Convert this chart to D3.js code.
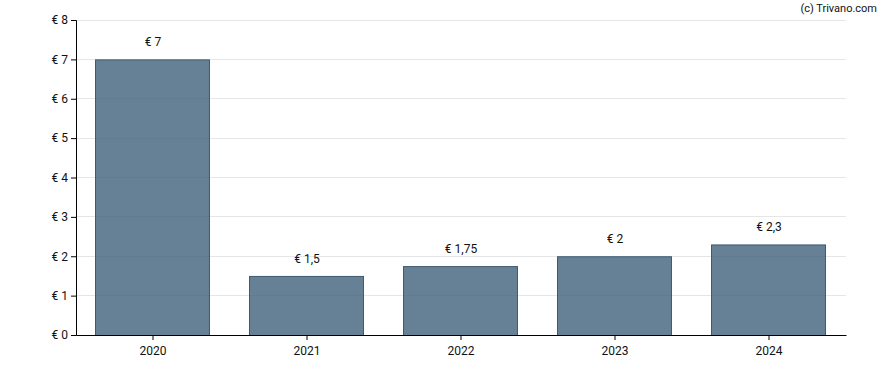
<!DOCTYPE html>
<html><head><meta charset="utf-8">
<script src="https://cdn.jsdelivr.net/npm/d3@7"></script>
<style>body{margin:0;background:#fff;}svg{display:block;font-family:Roboto,Arial,sans-serif;}</style>
</head><body>
<svg id="c" width="888" height="370"></svg>
<script>
const years = ["2020","2021","2022","2023","2024"];
const values = [7, 1.5, 1.75, 2, 2.3];
const valueLabels = ["€ 7","€ 1,5","€ 1,75","€ 2","€ 2,3"];
const yTicks = [0,1,2,3,4,5,6,7,8];

const svg = d3.select("#c");
const L = 76, R = 846, T = 20, B = 335;
const x = d3.scaleBand().domain(years).range([L, R]).paddingInner(0.26).paddingOuter(0.13);
const y = d3.scaleLinear().domain([0, 8]).range([B, T]);

// grid
svg.append("g").selectAll("line").data(yTicks.filter(d => d > 0)).join("line")
  .attr("x1", L).attr("x2", R).attr("y1", d => y(d)).attr("y2", d => y(d))
  .attr("stroke", "#e6e6e6").attr("stroke-width", 1).attr("shape-rendering", "crispEdges");

// bars
svg.append("g").selectAll("rect").data(values).join("rect")
  .attr("x", (d, i) => x(years[i]) - 0.5).attr("width", x.bandwidth())
  .attr("y", d => y(d) + 0.5).attr("height", d => B - y(d))
  .attr("fill", "#40627a").attr("fill-opacity", 0.8)
  .attr("stroke", "#3d5a70").attr("stroke-width", 1);

// value labels
svg.append("g").selectAll("text").data(values).join("text")
  .attr("x", (d, i) => x(years[i]) + x.bandwidth() / 2)
  .attr("y", d => y(d) - 13)
  .attr("text-anchor", "middle").attr("font-size", 12).attr("fill", "#111")
  .text((d, i) => valueLabels[i]);

// y axis
const ya = svg.append("g").attr("transform", `translate(${L},0)`)
  .call(d3.axisLeft(y).tickValues(yTicks).tickSize(5).tickPadding(3).tickFormat(d => "€ " + d));
ya.select(".domain").attr("stroke", "#000");
ya.selectAll("text").attr("font-size", 12).attr("font-family", "Roboto,Arial,sans-serif").attr("fill", "#111");

// x axis
const xa = svg.append("g").attr("transform", `translate(0,${B})`)
  .call(d3.axisBottom(x).tickSize(5).tickPadding(6).tickSizeOuter(0));
xa.select(".domain").attr("stroke", "#000");
xa.selectAll("text").attr("font-size", 12).attr("font-family", "Roboto,Arial,sans-serif").attr("fill", "#111");

svg.append("text").attr("x", 877).attr("y", 12).attr("text-anchor", "end")
  .attr("font-size", 11).attr("fill", "#111").text("(c) Trivano.com");
</script>
</body></html>
